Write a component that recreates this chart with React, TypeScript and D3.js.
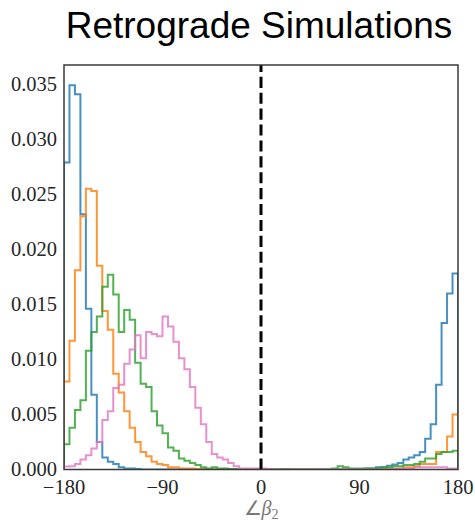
import React from "react";
import * as d3 from "d3";

// Histogram densities of the angle ∠β₂, 72 bins of 5° from -180° to 180°
const binEdges: number[] = Array.from({ length: 73 }, (_, i) => -180 + 5 * i);

const blueSeries: number[] = [
  0.0279, 0.0349, 0.0341, 0.0232, 0.0146, 0.0068, 0.0025, 0.0011, 0.0007, 0.0005,
  0.0002, 0.0001, 0.0001, 0.00005, 0, 0, 0, 0, 0, 0,
  0, 0, 0, 0, 0, 0, 0, 0, 0, 0,
  0, 0, 0, 0, 0, 0, 0, 0, 0, 0,
  0, 0, 0, 0, 0, 0, 0, 0, 0, 0,
  0, 0, 0, 0, 0.00005, 0.0001, 0.0001, 0.0002, 0.0002, 0.00035,
  0.00045, 0.0006, 0.0009, 0.0011, 0.0013, 0.0016, 0.0028, 0.0041, 0.0077, 0.0133,
  0.016, 0.0178,
];

const orangeSeries: number[] = [
  0.008, 0.0117, 0.0181, 0.023, 0.0255, 0.0253, 0.0185, 0.0144, 0.0127, 0.0087,
  0.007, 0.0053, 0.0038, 0.0025, 0.0016, 0.0012, 0.0007, 0.0005, 0.0004, 0.0002,
  0.0002, 0.0001, 0.0001, 0.0001, 0.00005, 0.00005, 0, 0, 0, 0,
  0, 0, 0, 0, 0, 0, 0.00005, 0, 0, 0,
  0, 0, 0, 0, 0, 0, 0, 0, 0, 0,
  0, 0, 0, 0, 0, 0, 0, 0.00005, 0.00005, 0.00005,
  0.0001, 0.0001, 0.0002, 0.0002, 0.0003, 0.0005, 0.0005, 0.0005, 0.0016, 0.0016,
  0.003, 0.005,
];

const greenSeries: number[] = [
  0.0023, 0.0038, 0.0054, 0.0063, 0.0108, 0.0125, 0.0139, 0.0166, 0.0177, 0.0159,
  0.0125, 0.0145, 0.0136, 0.0097, 0.0078, 0.0075, 0.0053, 0.004, 0.0033, 0.002,
  0.0017, 0.001, 0.0008, 0.0006, 0.0004, 0.0002, 0.0001, 0.0002, 0.0001, 0.0001,
  0.00005, 0.00005, 0, 0, 0, 0, 0, 0, 0, 0,
  0.00005, 0, 0, 0, 0, 0, 0, 0, 0, 0.0001,
  0.0003, 0.0002, 0.0001, 0.0001, 0.0001, 0.0001, 0.0001, 0.0001, 0.0002, 0.0002,
  0.0003, 0.0003, 0.0004, 0.0004, 0.0005, 0.0007, 0.001, 0.001, 0.0014, 0.0016,
  0.0016, 0.0017,
];

const pinkSeries: number[] = [
  0.00027, 0.0003, 0.0005, 0.0009, 0.0013, 0.0019, 0.0025, 0.0045, 0.0053, 0.0074,
  0.0077, 0.0096, 0.0109, 0.0122, 0.0101, 0.0125, 0.0123, 0.0121, 0.0139, 0.013,
  0.0116, 0.0101, 0.0091, 0.0075, 0.0056, 0.0041, 0.0025, 0.0014, 0.0011, 0.0009,
  0.0006, 0.0003, 0.0001, 0.0001, 0.0001, 0.0001, 0.0001, 0.00005, 0, 0,
  0, 0, 0, 0, 0, 0, 0, 0, 0, 0,
  0, 0, 0, 0, 0, 0, 0, 0, 0, 0,
  0.00005, 0.00005, 0.0001, 0.0001, 0.0002, 0.0002, 0.0002, 0.0002, 0.0002, 0.0002,
  0.0001, 0.0001,
];

const seriesColors: string[] = ["#1f77b4", "#ff7f0e", "#2ca02c", "#e377c2"];
const allSeries: number[][] = [blueSeries, orangeSeries, greenSeries, pinkSeries];

const xTicks: number[] = [-180, -90, 0, 90, 180];
const yTicks: number[] = [0, 0.005, 0.01, 0.015, 0.02, 0.025, 0.03, 0.035];

const chartTitle = "Retrograde Simulations";

const WIDTH = 475;
const HEIGHT = 522;
const plot = { left: 64, right: 458, top: 65, bottom: 469.5 };

export default function App() {
  const x = d3.scaleLinear().domain([-180, 180]).range([plot.left, plot.right]);
  const y = d3.scaleLinear().domain([0, 0.03675]).range([plot.bottom, plot.top]);

  const line = d3
    .line<[number, number]>()
    .x((d) => x(d[0]))
    .y((d) => y(d[1]));

  // Outline of a step histogram: up from the baseline, across each bin, back down
  const stepPoints = (vals: number[]): [number, number][] => {
    const pts: [number, number][] = [[binEdges[0], 0]];
    vals.forEach((v, i) => {
      pts.push([binEdges[i], v]);
      pts.push([binEdges[i + 1], v]);
    });
    pts.push([binEdges[binEdges.length - 1], 0]);
    return pts;
  };

  const tickFont = "'Liberation Serif', 'Times New Roman', serif";
  const fmt = d3.format(".3f");
  const xFmt = (v: number) => (v < 0 ? "\u2212" + Math.abs(v) : String(v));

  return (
    <svg
      width={WIDTH}
      height={HEIGHT}
      style={{ position: "absolute", left: 0, top: 0, background: "#fff" }}
    >
      <defs>
        <clipPath id="plot-clip">
          <rect
            x={plot.left}
            y={plot.top}
            width={plot.right - plot.left}
            height={plot.bottom - plot.top}
          />
        </clipPath>
      </defs>
      <rect x={0} y={0} width={WIDTH} height={HEIGHT} fill="#fff" />

      <text
        x={259}
        y={38}
        textAnchor="middle"
        fontFamily="'Liberation Sans', Arial, sans-serif"
        fontSize={37}
        fill="#000"
      >
        {chartTitle}
      </text>

      <g clipPath="url(#plot-clip)">
        {allSeries.map((vals, i) => (
          <path
            key={i}
            d={line(stepPoints(vals)) ?? ""}
            fill="none"
            stroke={seriesColors[i]}
            strokeOpacity={0.82}
            strokeWidth={2}
            strokeLinejoin="miter"
          />
        ))}
        <line
          x1={x(0)}
          x2={x(0)}
          y1={y.range()[0]}
          y2={y.range()[1]}
          stroke="#000"
          strokeWidth={3}
          strokeDasharray="11.1,4.8"
        />
      </g>

      <rect
        x={plot.left}
        y={plot.top}
        width={plot.right - plot.left}
        height={plot.bottom - plot.top}
        fill="none"
        stroke="#3a3a3a"
        strokeWidth={1.5}
      />

      {yTicks.map((t) => (
        <text
          key={t}
          x={57}
          y={y(t)}
          dy="0.33em"
          textAnchor="end"
          fontFamily={tickFont}
          fontSize={20.5}
          fill="#262626"
        >
          {fmt(t)}
        </text>
      ))}

      {xTicks.map((t) => (
        <text
          key={t}
          x={x(t)}
          y={493.5}
          textAnchor="middle"
          fontFamily={tickFont}
          fontSize={20.5}
          fill="#262626"
        >
          {xFmt(t)}
        </text>
      ))}

      <text
        x={x(0)}
        y={515}
        textAnchor="middle"
        fontFamily={tickFont}
        fontSize={20}
        fill="#777"
      >
        <tspan>∠</tspan>
        <tspan fontStyle="italic">β</tspan>
        <tspan fontSize={14} dy={4}>
          2
        </tspan>
      </text>
    </svg>
  );
}
